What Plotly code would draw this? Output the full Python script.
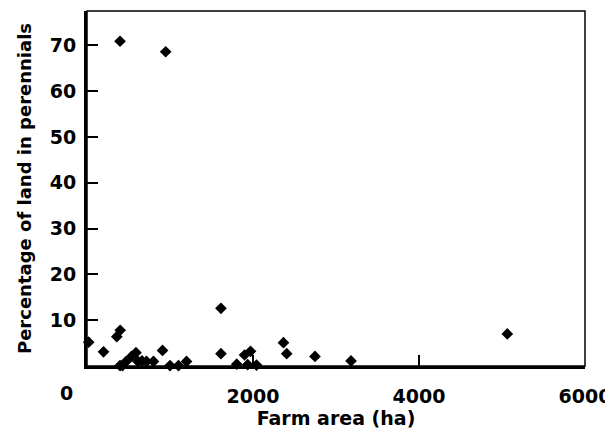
import plotly.graph_objects as go

farm_area_ha = [398, 948, 20, 199, 400, 359, 428, 398, 466, 536, 590, 614, 663, 717, 801,
                910, 1000, 1102, 1199, 1614, 1614, 1804, 1898, 1970, 1936, 2042, 2367,
                2406, 2747, 3181, 5064]
pct_perennials = [70.9, 68.6, 5.2, 3.1, 7.8, 6.4, 0.1, 0.1, 0.9, 2.1, 2.9, 1.0, 1.1, 1.0, 1.0,
                  3.4, 0.1, 0.1, 1.0, 12.6, 2.7, 0.4, 2.4, 3.2, 0.3, 0.2, 5.1,
                  2.7, 2.1, 1.1, 7.0]
x_ticks = [2000, 4000, 6000]
y_ticks = [10, 20, 30, 40, 50, 60, 70]

FONT = "DejaVu Sans"

fig = go.Figure()
fig.add_trace(go.Scatter(
    x=farm_area_ha, y=pct_perennials, mode="markers",
    marker=dict(symbol="diamond", size=9, color="black", line=dict(width=0)),
    cliponaxis=False, showlegend=False,
))

# page body has an 8px margin, so the figure is 8px smaller on each side
fig.update_layout(
    width=605, height=437,
    margin=dict(l=79, r=28, t=3, b=79),
    plot_bgcolor="white", paper_bgcolor="white",
    font=dict(family=FONT, size=19, color="black"),
    xaxis=dict(
        range=[0, 6000], tickvals=x_ticks, ticktext=[str(v) for v in x_ticks],
        ticks="inside", ticklen=11, tickwidth=2, tickcolor="black",
        showline=True, linewidth=2.5, linecolor="black",
        showgrid=False, zeroline=False, automargin=False,
        tickfont=dict(family=FONT, size=19, weight="bold"),
        ticklabelstandoff=11,
        title=dict(text="<b>Farm area (ha)</b>", font=dict(family=FONT, size=19), standoff=3),
    ),
    yaxis=dict(
        range=[0, 77.5], tickvals=y_ticks,
        ticks="inside", ticklen=11, tickwidth=2, tickcolor="black",
        showline=True, linewidth=3, linecolor="black",
        showgrid=False, zeroline=False, automargin=False,
        tickfont=dict(family=FONT, size=19, weight="bold"),
        ticklabelstandoff=4,
        title=dict(text="<b>Percentage of land in perennials</b>", font=dict(family=FONT, size=18), standoff=14),
    ),
)

fig.add_shape(type="rect", xref="paper", yref="paper", x0=0, y0=0, x1=1, y1=1,
              line=dict(color="black", width=1.5), layer="above")
fig.add_annotation(text="<b>0</b>", x=0, y=0, xref="paper", yref="paper",
                   xanchor="center", yanchor="top", xshift=-21, yshift=-14,
                   showarrow=False, font=dict(family=FONT, size=19, color="black"))

fig.write_html("out.html")
